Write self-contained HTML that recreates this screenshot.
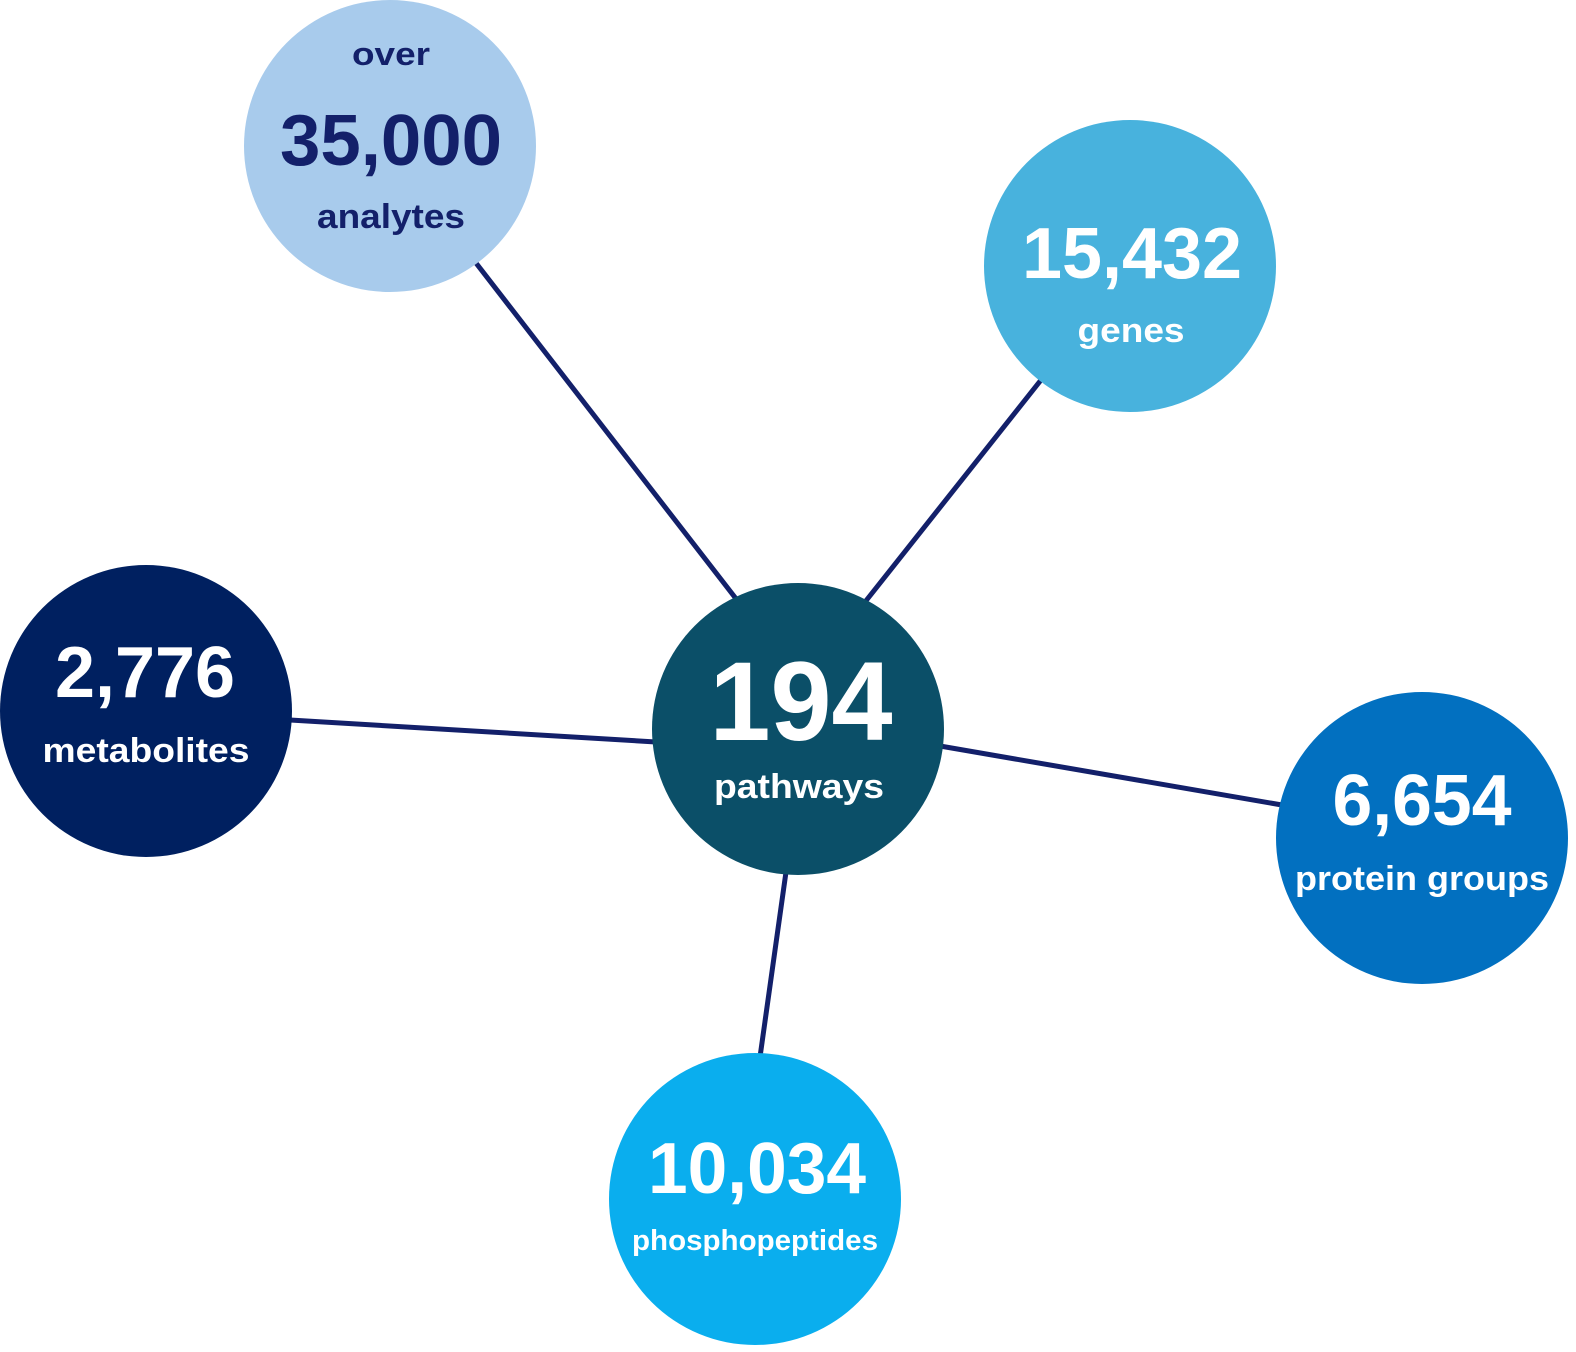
<!DOCTYPE html>
<html><head><meta charset="utf-8"><style>
html,body{margin:0;padding:0;background:#fff;}
svg{display:block;}
text{font-family:"Liberation Sans",sans-serif;font-weight:bold;text-anchor:middle;}
</style></head><body>
<svg width="1576" height="1352" viewBox="0 0 1576 1352" xmlns="http://www.w3.org/2000/svg">
<g stroke="#13206a" stroke-width="5">
<line x1="476" y1="263" x2="737" y2="600"/>
<line x1="1041" y1="380" x2="865" y2="602"/>
<line x1="290" y1="720" x2="656" y2="742"/>
<line x1="940" y1="746" x2="1282" y2="805"/>
<line x1="786" y1="872" x2="760" y2="1057"/>
</g>
<circle cx="390" cy="146" r="146" fill="#a8cbec"/>
<circle cx="1130" cy="266" r="146" fill="#48b2dd"/>
<circle cx="146" cy="711" r="146" fill="#002060"/>
<circle cx="798" cy="729" r="146" fill="#0b4f68"/>
<circle cx="1422" cy="838" r="146" fill="#0270c0"/>
<circle cx="755" cy="1199" r="146" fill="#0aaeee"/>
<g fill="#13206a">
<text x="391" y="65" font-size="32" textLength="78" lengthAdjust="spacingAndGlyphs">over</text>
<text x="391" y="165" font-size="72" textLength="222" lengthAdjust="spacingAndGlyphs">35,000</text>
<text x="391" y="228" font-size="34" textLength="148" lengthAdjust="spacingAndGlyphs">analytes</text>
</g>
<g fill="#fff">
<text x="1132" y="278" font-size="72" textLength="220" lengthAdjust="spacingAndGlyphs">15,432</text>
<text x="1131" y="342" font-size="34" textLength="107" lengthAdjust="spacingAndGlyphs">genes</text>
<text x="145" y="697" font-size="72" textLength="180" lengthAdjust="spacingAndGlyphs">2,776</text>
<text x="146" y="762" font-size="34" textLength="207" lengthAdjust="spacingAndGlyphs">metabolites</text>
<text x="801" y="740" font-size="112" textLength="183" lengthAdjust="spacingAndGlyphs">194</text>
<text x="799" y="798" font-size="34" textLength="170" lengthAdjust="spacingAndGlyphs">pathways</text>
<text x="1422" y="825" font-size="72" textLength="179" lengthAdjust="spacingAndGlyphs">6,654</text>
<text x="1422" y="890" font-size="34" textLength="254" lengthAdjust="spacingAndGlyphs">protein groups</text>
<text x="757" y="1193" font-size="72" textLength="218" lengthAdjust="spacingAndGlyphs">10,034</text>
<text x="755" y="1250" font-size="29" textLength="246" lengthAdjust="spacingAndGlyphs">phosphopeptides</text>
</g>
</svg>
</body></html>
